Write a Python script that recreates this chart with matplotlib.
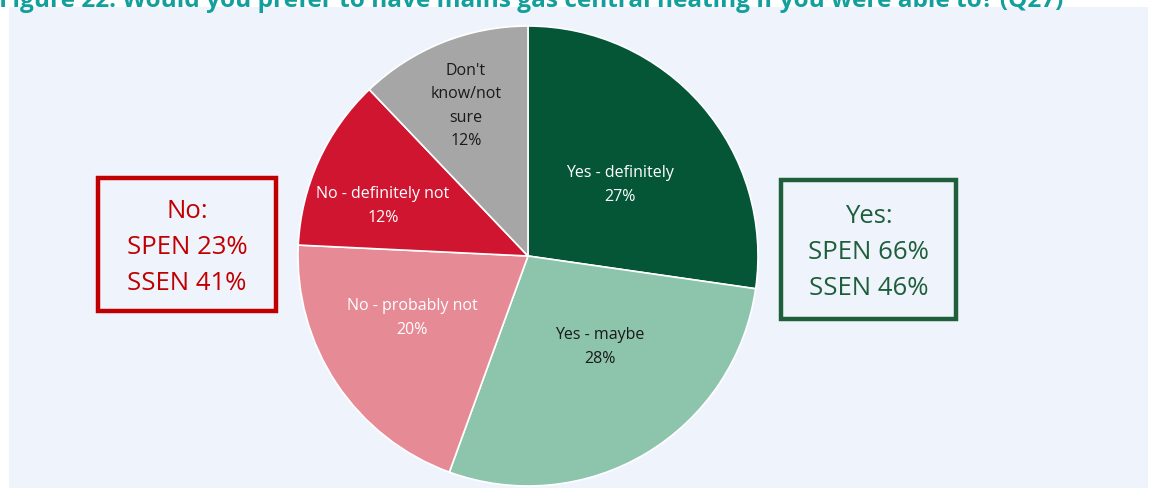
import matplotlib
matplotlib.use("Agg")
import matplotlib.pyplot as plt
from matplotlib.patches import Rectangle

# Survey responses (Q27)
categories = ["Yes - definitely", "Yes - maybe", "No - probably not",
              "No - definitely not", "Don't\nknow/not\nsure"]
shares = [27, 28, 20, 12, 12]
slice_colors = ["#045636", "#8dc5ac", "#e68a96", "#d01530", "#a6a6a6"]
label_colors = ["white", "#1a1a1a", "white", "white", "#1a1a1a"]

yes_summary = ["Yes:", "SPEN 66%", "SSEN 46%"]
no_summary = ["No:", "SPEN 23%", "SSEN 41%"]

title = "Figure 22: Would you prefer to have mains gas central heating if you were able to? (Q27)"

W, H = 1149, 489
fig = plt.figure(figsize=(W / 100, H / 100), dpi=100)
fig.patch.set_facecolor("white")
ax = fig.add_axes([0, 0, 1, 1])
ax.set_xlim(0, W)
ax.set_ylim(0, H)
ax.set_aspect("equal")
ax.axis("off")

font = "Open Sans"

# Panel background
ax.add_patch(Rectangle((9, 0), 1139, H - 8, facecolor="#eff4fc",
                       edgecolor="none", zorder=0))

# Title (runs off the top edge of the page)
ax.text(-1, H - 1, title, ha="left", va="center", fontsize=17.6,
        fontweight="bold", color="#13a09c", family=font, zorder=1)

# Pie
cx, cy, r = 528, H - 257, 230
wedges, _ = ax.pie(shares, colors=slice_colors, startangle=90,
                   counterclock=False, center=(cx, cy), radius=r,
                   wedgeprops=dict(edgecolor="white", linewidth=1.2),
                   frame=True)
ax.set_xlim(0, W)
ax.set_ylim(0, H)
ax.axis("off")

label_pos = [(620, 185), (600, 347), (412, 318), (383, 206), (466, 106)]
for cat, val, col, (lx, ly) in zip(categories, shares, label_colors, label_pos):
    ax.text(lx, H - ly, f"{cat}\n{val}%", ha="center", va="center",
            fontsize=11.5, color=col, family=font, linespacing=1.62, zorder=5)

# Summary boxes
def summary_box(x0, y0, x1, y1, lines, color):
    ax.add_patch(Rectangle((x0, H - y1), x1 - x0, y1 - y0, facecolor="none",
                           edgecolor=color, linewidth=3.2, zorder=4))
    ax.text((x0 + x1) / 2, H - (y0 + y1) / 2 - 2, "\n".join(lines),
            ha="center", va="center", fontsize=18.5, color=color,
            family=font, linespacing=1.6, zorder=5)

summary_box(98, 179, 276, 312, no_summary, "#c00000")
summary_box(781, 181, 956, 320, yes_summary, "#1e5e3a")

fig.savefig("out.png", dpi=100, facecolor=fig.get_facecolor())
